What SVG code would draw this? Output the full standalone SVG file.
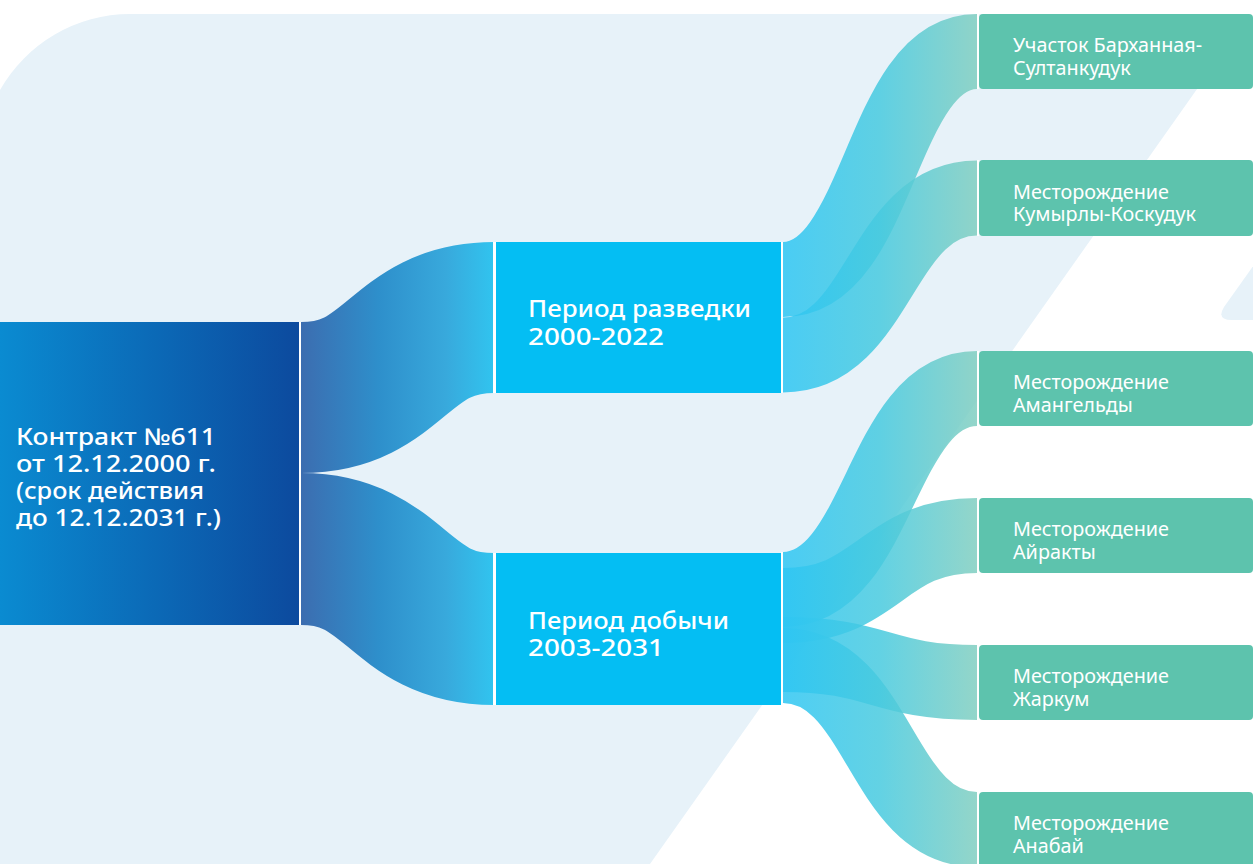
<svg xmlns="http://www.w3.org/2000/svg" width="1253" height="864" viewBox="0 0 1253 864">
  <defs>
    <linearGradient id="gContract" x1="0" y1="0" x2="1" y2="0">
      <stop offset="0" stop-color="#0a8bd1"/>
      <stop offset="1" stop-color="#0c4a9e"/>
    </linearGradient>
    <linearGradient id="gLeftFlow" gradientUnits="userSpaceOnUse" x1="301" y1="0" x2="494" y2="0">
      <stop offset="0" stop-color="#3c6db0"/>
      <stop offset="0.4" stop-color="#2e8fcb"/>
      <stop offset="0.75" stop-color="#38a9dc"/>
      <stop offset="1" stop-color="#31c4ef"/>
    </linearGradient>
    <linearGradient id="gRightFlow" gradientUnits="userSpaceOnUse" x1="783" y1="0" x2="977" y2="0">
      <stop offset="0" stop-color="#2ec6f3"/>
      <stop offset="0.5" stop-color="#47cadf"/>
      <stop offset="1" stop-color="#80cec0"/>
    </linearGradient>
    <style>
      .bg { fill: #e7f2f9; }
      .period { fill: #04bef3; }
      .field { fill: #5dc3ad; }
      .lflow { fill: none; stroke: url(#gLeftFlow); }
      .rflow { fill: none; stroke: url(#gRightFlow); stroke-width: 75; opacity: 0.85; }
      .sep { fill: #ffffff; }
      .t { font-family: "Noto Sans", "Open Sans", sans-serif; fill: #ffffff; }
      .tc { font-size: 23px; font-weight: 500; }
      .tp { font-size: 23px; font-weight: 500; }
      .tf { font-size: 19.8px; }
    </style>
  </defs>

  <rect width="1253" height="864" fill="#ffffff"/>
  <g id="background">
    <path class="bg" d="M0,90 A150,150 0 0 1 130,14 L1250,14 L650,864 L0,864 Z"/>
    <path class="bg" d="M1256,262 L1224,307 Q1216,320 1232,320 L1253,320 Z"/>
  </g>

  <g id="connectors">
    <path class="lflow" stroke-width="151" d="M301,397.5 C397,397.5 397,317.5 494,317.5"/>
    <path class="lflow" stroke-width="152" d="M301,549 C397,549 397,629 494,629"/>
    <path class="rflow" d="M783,279.5 C880,279.5 880,51.5 977,51.5"/>
    <path class="rflow" d="M783,355 C880,355 880,198 977,198"/>
    <path class="rflow" d="M783,589.5 C880,589.5 880,388.5 977,388.5"/>
    <path class="rflow" d="M783,605.5 C880,605.5 880,535.5 977,535.5"/>
    <path class="rflow" d="M783,654.5 C880,654.5 880,682.5 977,682.5"/>
    <path class="rflow" d="M783,665.5 C880,665.5 880,829.5 977,829.5"/>
    <g id="separators">
      <rect class="sep" x="299" y="322" width="2" height="303"/>
      <rect class="sep" x="493" y="242" width="3" height="151"/>
      <rect class="sep" x="493" y="553" width="3" height="152"/>
      <rect class="sep" x="781" y="242" width="2" height="151"/>
      <rect class="sep" x="781" y="552" width="2" height="153"/>
      <rect class="sep" x="977" y="14" width="2" height="75"/>
      <rect class="sep" x="977" y="160" width="2" height="76"/>
      <rect class="sep" x="977" y="351" width="2" height="75"/>
      <rect class="sep" x="977" y="498" width="2" height="75"/>
      <rect class="sep" x="977" y="645" width="2" height="75"/>
      <rect class="sep" x="977" y="792" width="2" height="75"/>
    </g>
  </g>

  <g id="node-contract">
    <rect x="0" y="322" width="299" height="303" fill="url(#gContract)"/>
    <text class="t tc" x="16" y="445" textLength="200" lengthAdjust="spacingAndGlyphs">Контракт №611</text>
    <text class="t tc" x="16" y="472" textLength="200" lengthAdjust="spacingAndGlyphs">от 12.12.2000 г.</text>
    <text class="t tc" x="16" y="499" textLength="188" lengthAdjust="spacingAndGlyphs">(срок действия</text>
    <text class="t tc" x="16" y="526" textLength="205" lengthAdjust="spacingAndGlyphs">до 12.12.2031 г.)</text>
  </g>

  <g id="node-exploration">
    <rect class="period" x="496" y="242" width="285" height="151"/>
    <text class="t tp" x="528" y="317" textLength="223" lengthAdjust="spacingAndGlyphs">Период разведки</text>
    <text class="t tp" x="528" y="345" textLength="136" lengthAdjust="spacingAndGlyphs">2000-2022</text>
  </g>

  <g id="node-production">
    <rect class="period" x="496" y="553" width="285" height="152"/>
    <text class="t tp" x="528" y="629" textLength="201" lengthAdjust="spacingAndGlyphs">Период добычи</text>
    <text class="t tp" x="528" y="656" textLength="136" lengthAdjust="spacingAndGlyphs">2003-2031</text>
  </g>

  <g id="node-barkhannaya">
    <rect class="field" x="979" y="14" width="274" height="75" rx="4"/>
    <text class="t tf" x="1013" y="52">Участок Барханная-</text>
    <text class="t tf" x="1013" y="74.5">Султанкудук</text>
  </g>
  <g id="node-kumyrly">
    <rect class="field" x="979" y="160" width="274" height="76" rx="4"/>
    <text class="t tf" x="1013" y="198.5">Месторождение</text>
    <text class="t tf" x="1013" y="220.5">Кумырлы-Коскудук</text>
  </g>
  <g id="node-amangeldy">
    <rect class="field" x="979" y="351" width="274" height="75" rx="4"/>
    <text class="t tf" x="1013" y="389">Месторождение</text>
    <text class="t tf" x="1013" y="411.5">Амангельды</text>
  </g>
  <g id="node-airakty">
    <rect class="field" x="979" y="498" width="274" height="75" rx="4"/>
    <text class="t tf" x="1013" y="536">Месторождение</text>
    <text class="t tf" x="1013" y="558.5">Айракты</text>
  </g>
  <g id="node-zharkum">
    <rect class="field" x="979" y="645" width="274" height="75" rx="4"/>
    <text class="t tf" x="1013" y="683">Месторождение</text>
    <text class="t tf" x="1013" y="705.5">Жаркум</text>
  </g>
  <g id="node-anabai">
    <rect class="field" x="979" y="792" width="274" height="75" rx="4"/>
    <text class="t tf" x="1013" y="830">Месторождение</text>
    <text class="t tf" x="1013" y="852.5">Анабай</text>
  </g>
</svg>
